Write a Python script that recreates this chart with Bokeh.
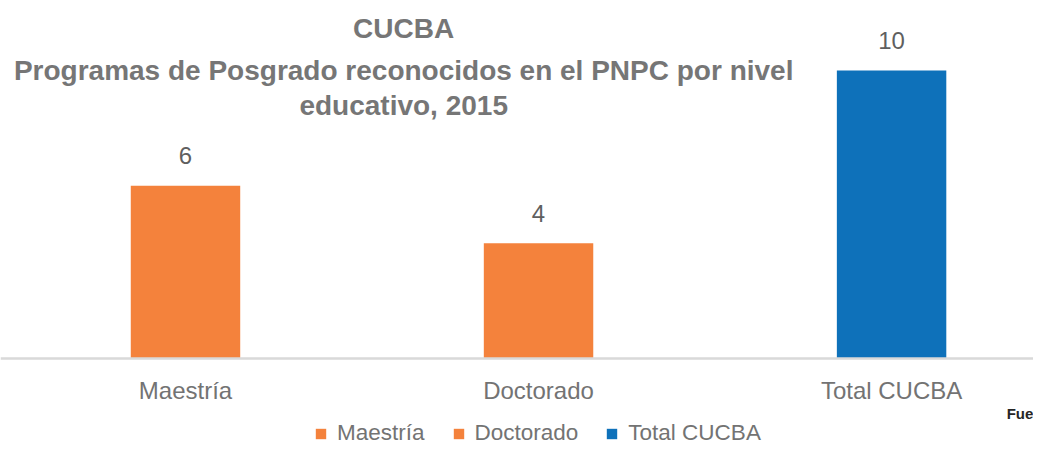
from bokeh.plotting import figure
from bokeh.models import (ColumnDataSource, Range1d, FixedTicker, Label, Legend,
                          LegendItem)
from bokeh.embed import file_html
from bokeh.resources import INLINE

# ---- data ----
categories = ["Maestría", "Doctorado", "Total CUCBA"]
values = [6, 4, 10]
bar_colors = ["#F4823C", "#F4823C", "#0E71BA"]
title_lines = ["CUCBA",
               "Programas de Posgrado reconocidos en el PNPC por nivel",
               "educativo, 2015"]
source_note = "Fue"

FONT = "Liberation Sans, Arial, sans-serif"

xpos = [i + 0.5 for i in range(len(categories))]

p = figure(width=1033, height=446, output_backend="svg", toolbar_location=None,
           x_range=Range1d(-0.024, 2.902), y_range=Range1d(-3.056, 12.43),
           min_border_left=0, min_border_right=0, min_border_top=0,
           min_border_bottom=0)
p.outline_line_color = None
p.grid.visible = False
p.yaxis.visible = False

src = ColumnDataSource(dict(x=xpos, top=values, color=bar_colors,
                            cat=categories, lab=[str(v) for v in values]))
bars = p.vbar(x="x", top="top", width=0.31, bottom=0, fill_color="color",
              line_color=None, source=src)

# data labels
p.text(x="x", y="top", text="lab", source=src, text_align="center",
       text_baseline="alphabetic", y_offset=-30, text_font_size="24px",
       text_color="#5f5f5f", text_font={"value": FONT})

# x axis, drawn inside the frame at y = 0
ax = p.xaxis[0]
ax.fixed_location = 0
ax.ticker = FixedTicker(ticks=xpos)
ax.major_label_overrides = {x: c for x, c in zip(xpos, categories)}
ax.major_tick_line_color = None
ax.minor_tick_line_color = None
ax.axis_line_color = "#d9d9d9"
ax.axis_line_width = 2.5
ax.major_label_text_font_size = "24px"
ax.major_label_text_font = FONT
ax.major_label_text_color = "#737373"
ax.major_label_standoff = 13

# title lines (three lines, centered)
title_y = [11.448, 10.010, 8.800]
for t, yy in zip(title_lines, title_y):
    p.add_layout(Label(x=1.118, y=yy, text=t, text_align="center",
                       text_baseline="alphabetic", text_font_size="28px",
                       text_font_style="bold", text_color="#767676",
                       text_font=FONT))

# cut-off source note at the right
p.add_layout(Label(x=2.826, y=-1.90, text=source_note, text_align="left",
                   text_baseline="alphabetic", text_font_size="15px",
                   text_font_style="bold", text_color="#262626",
                   text_font=FONT))

# legend
items = [LegendItem(label=c, renderers=[bars], index=i)
         for i, c in enumerate(categories)]
legend = Legend(items=items, orientation="horizontal", location=(314, 0),
                glyph_width=13, glyph_height=13, label_standoff=10,
                spacing=27, padding=0, margin=0, border_line_color=None,
                background_fill_alpha=0, label_text_font_size="22.5px",
                label_text_font=FONT, label_text_color="#737373")
p.add_layout(legend, "center")

open("out.html", "w").write(file_html(p, INLINE))
